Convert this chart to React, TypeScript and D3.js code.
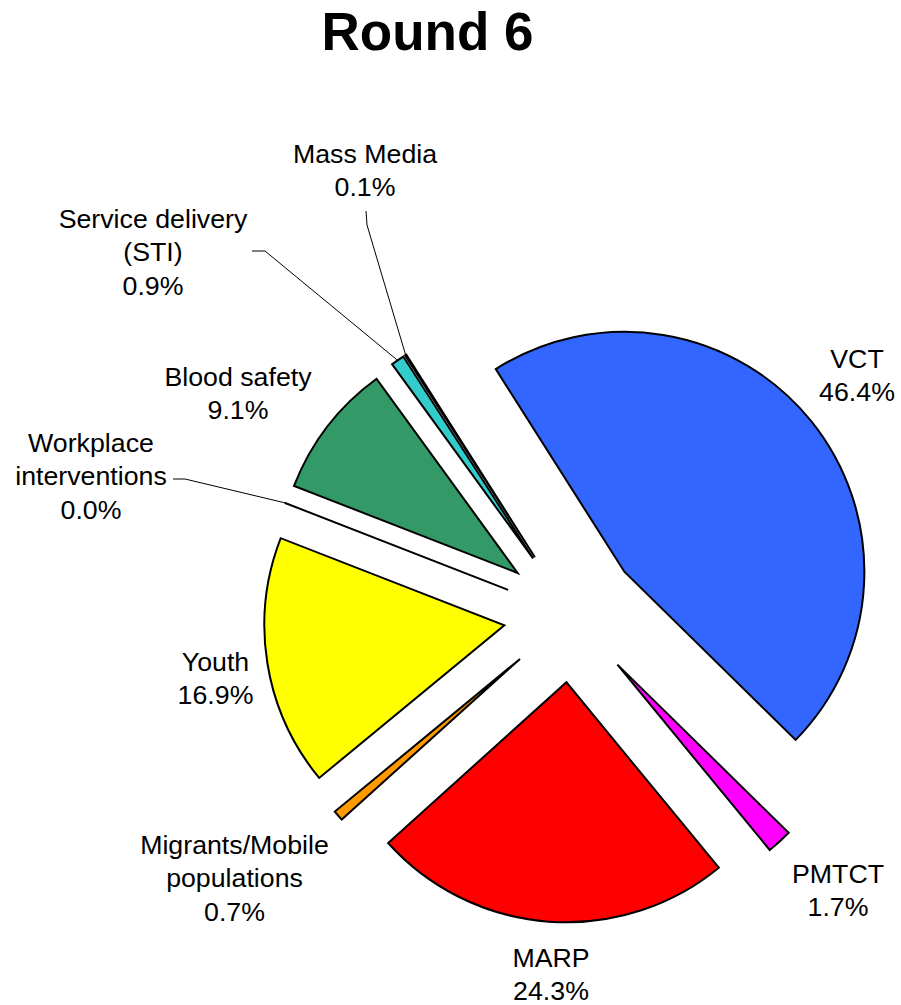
import React from 'react';
import * as d3 from 'd3';

// slice data, in drawing order (clockwise, starting with VCT)
const categories = ['VCT', 'PMTCT', 'MARP', 'Migrants/Mobile populations', 'Youth',
  'Workplace interventions', 'Blood safety', 'Service delivery (STI)', 'Mass Media'];
const shares = [46.4, 1.7, 24.3, 0.7, 16.9, 0.0, 9.1, 0.9, 0.1];
const shareLabels = ['46.4%', '1.7%', '24.3%', '0.7%', '16.9%', '0.0%', '9.1%', '0.9%', '0.1%'];
const nameLines = [['VCT'], ['PMTCT'], ['MARP'], ['Migrants/Mobile', 'populations'], ['Youth'],
  ['Workplace', 'interventions'], ['Blood safety'], ['Service delivery', '(STI)'], ['Mass Media']];
const colors = ['#3366FF', '#FF00FF', '#FF0000', '#FF9900', '#FFFF00',
  '#FFFFFF', '#339966', '#33CCCC', '#800080'];

// layout
const W = 901, H = 1005;
const cx = 571.5, cy = 614.5;
const radius = 240;
const explode = 68;
const startDeg = -32.4;
const lineH = 33.5;
const font = 'Arial, "Liberation Sans", sans-serif';

// label anchors: centre x, first baseline
const labelPos: [number, number][] = [
  [857, 368], [838, 883], [551, 967], [234.5, 854], [215.5, 671],
  [91, 452], [238, 386], [153, 228], [365, 163],
];
// leader line starting points (only the small slices with lines)
const leaderStart: Record<number, [number, number][]> = {
  5: [[173, 479], [185, 479]],
  7: [[252, 251], [265, 251]],
  8: [[366, 211], [367, 225]],
};

export default function App() {
  const start = (startDeg * Math.PI) / 180;
  const pie = d3.pie<number>().sort(null).value(d => d).startAngle(start).endAngle(start + 2 * Math.PI);
  const arcs = pie(shares);
  const arc = d3.arc<d3.PieArcDatum<number>>().innerRadius(0).outerRadius(radius);
  const line = d3.line();

  const offset = (a: d3.PieArcDatum<number>) => {
    const mid = (a.startAngle + a.endAngle) / 2;
    return [Math.sin(mid) * explode, -Math.cos(mid) * explode];
  };

  return (
    <svg width={W} height={H} style={{ position: 'absolute', left: 0, top: 0, background: '#fff' }}>
      <text x={427.5} y={50} textAnchor="middle" fontFamily={font} fontWeight="bold" fontSize={53}>Round 6</text>
      <g transform={`translate(${cx},${cy})`}>
        {arcs.map((a, i) => {
          const [dx, dy] = offset(a);
          return (
            <path key={categories[i]} d={arc(a) || ''} transform={`translate(${dx},${dy})`}
              fill={colors[i]} stroke="#000" strokeWidth={2} strokeLinejoin="miter" />
          );
        })}
      </g>
      {arcs.map((a, i) => {
        const pts = leaderStart[i];
        if (!pts) return null;
        const [dx, dy] = offset(a);
        const mid = (a.startAngle + a.endAngle) / 2;
        const end: [number, number] = [cx + dx + Math.sin(mid) * radius, cy + dy - Math.cos(mid) * radius];
        return <path key={'l' + i} d={line([...pts, end]) || ''} fill="none" stroke="#000" strokeWidth={1} />;
      })}
      {labelPos.map(([x, y], i) => (
        <text key={'t' + i} transform={`translate(${x},${y}) scale(1.07,1)`} textAnchor="middle"
          fontFamily={font} fontSize={25} fill="#000">
          {[...nameLines[i], shareLabels[i]].map((s, j) => (
            <tspan key={j} x={0} dy={j === 0 ? 0 : lineH}>{s}</tspan>
          ))}
        </text>
      ))}
    </svg>
  );
}
